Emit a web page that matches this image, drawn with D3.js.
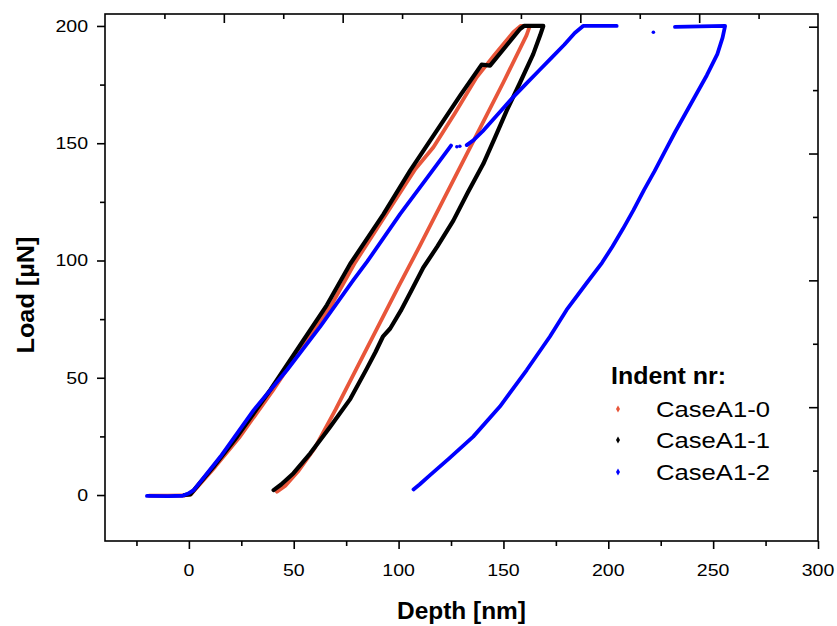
<!DOCTYPE html>
<html><head><meta charset="utf-8">
<script src="https://cdn.jsdelivr.net/npm/d3@7/dist/d3.min.js"></script>
<style>body{margin:0;background:#fff}svg{display:block}text{font-family:"Liberation Sans",Arial,sans-serif;fill:#000}</style>
</head><body><svg id="c" width="837" height="626"></svg>
<script>
// ---- data ----
const seriesNames = ["CaseA1-0", "CaseA1-1", "CaseA1-2"];
const seriesColors = ["#E8563A", "#000000", "#0000FF"];

// CaseA1-0 (red)
const a0Depth = [-19,-10,-2,1,12.5,24,40,56,67.5,79.3,95,108,116.6,127,137.2,146,154.7,158.2,162.6,161,150,140,130,120,110,100,90,80,70,60,52,46,42];
const a0Load  = [-0.3,-0.3,-0.2,0.3,12,24.5,44.5,66,80.3,99.2,121,139,148.3,163,178.1,188,197.3,200,200,196,176,158.5,141,123.5,106,89,71.5,54,36.5,20,10,4,1.4];

// CaseA1-1 (black)
const a1Depth = [-2,0.7,11.8,23,38.8,54.7,65.8,76.9,92.8,105.5,119.8,129.5,139.6,143.6,157.9,159.8,169,167.5,164.2,158,151.6,146,140.4,133,126.1,118.5,111.8,106,101,96,92.5,89,84.9,77,67.4,57.9,49.9,44,40.4];
const a1Load  = [0,0.3,12.1,24.9,44.8,66.1,81,98.5,119.8,138.3,157.5,170.5,183.5,183.1,198.7,200,200,196,188,176,164,152.5,141.2,129,117,106,97,87,78.5,71,67.5,61,54,41,29.1,17.8,9.3,4.5,2.1];

// CaseA1-2 (blue), null marks a gap in the record
const a2Depth = [-20,-10,-3,0,2.3,15,30.9,46.8,62.6,78.5,85,100.7,115,125, null,
                 132.5,136,140,145,150,155,161,167,173,179,184,188,204, null,
                 231.8,255.7,254.5,252,247,242,237,232,227,222,217,212,207,202,197,189.6,180.1,172.1,161.1,148.3,135.6,124,115,110,107.1];
const a2Load  = [-0.4,-0.5,-0.3,0.8,2.1,16.3,36.2,53.3,71.8,91.7,99.5,119.8,136.9,149, null,
                 149.2,151.5,155,160,165,170,175.5,181,186.5,192,197,200,200, null,
                 199.6,200,195,188,179,171,163,155,146.5,138,130,121.5,113.5,106,99,90.3,78.9,67.5,53.3,37.7,24.9,15.5,8.5,4.5,2.4];
// isolated blue points
const a2DotDepth = [127.8, 129.2, 221.5];
const a2DotLoad  = [148.5, 148.7, 197.3];

// axis ticks
const xMajor = [0,50,100,150,200,250,300];
const xMinor = [-25,25,75,125,175,225,275];
const yMajor = [0,50,100,150,200];
const yMinor = [25,75,125,175];
const topMajor = [1,2,3,4,5];
const topMinor = [0.5,1.5,2.5,3.5,4.5,5.5];
const rightMajor = [1,2,3,4];
const rightMinor = [0.5,1.5,2.5,3.5];

// ---- drawing ----
const svg = d3.select("#c");
const L=105, R=818, T=14, B=541;
const x = d3.scaleLinear([-40,300],[L,R]);
const y = d3.scaleLinear([-19.6,205.1],[B,T]);
const xTop = d3.scaleLinear([0,6],[L,R]);
const yRight = d3.scaleLinear([0,4],[534,26.7]);
const SX = 1.15;

function ax(gen, vals, size, tx, ty){
  const g = svg.append("g").attr("transform",`translate(${tx},${ty})`)
    .call(gen.tickValues(vals).tickSize(size).tickSizeOuter(0).tickFormat(""));
  g.select(".domain").remove();
  g.selectAll("line").attr("stroke","#000").attr("stroke-width",1.6);
}
ax(d3.axisBottom(x), xMajor, 8, 0, B);
ax(d3.axisBottom(x), xMinor, 5, 0, B);
ax(d3.axisLeft(y), yMajor, 8, L, 0);
ax(d3.axisLeft(y), yMinor, 5, L, 0);
ax(d3.axisTop(xTop), topMajor, -9, 0, T);
ax(d3.axisTop(xTop), topMinor, -5, 0, T);
ax(d3.axisRight(yRight), rightMajor, -9, R, 0);
ax(d3.axisRight(yRight), rightMinor, -5, R, 0);

svg.append("rect").attr("x",L).attr("y",T).attr("width",R-L).attr("height",B-T)
  .attr("fill","none").attr("stroke","#000").attr("stroke-width",1.6);

// tick labels
svg.append("g").selectAll("text").data(xMajor).join("text")
  .attr("transform",d=>`translate(${x(d)},576) scale(${SX},1)`)
  .attr("text-anchor","middle").attr("font-size",17).text(d=>d);
svg.append("g").selectAll("text").data(yMajor).join("text")
  .attr("transform",d=>`translate(88,${y(d)+6}) scale(${SX},1)`)
  .attr("text-anchor","end").attr("font-size",17).text(d=>d);

// axis titles
svg.append("text").attr("x",461.5).attr("y",619).attr("text-anchor","middle")
  .attr("font-size",23).attr("font-weight","bold")
  .attr("textLength",129).attr("lengthAdjust","spacingAndGlyphs").text("Depth [nm]");
svg.append("text").attr("transform","translate(34,295) rotate(-90)").attr("text-anchor","middle")
  .attr("font-size",23).attr("font-weight","bold")
  .attr("textLength",117).attr("lengthAdjust","spacingAndGlyphs").text("Load [µN]");

// curves
const plot = svg.append("g");
const line = d3.line().defined((d)=>d[0]!==null).x(d=>x(d[0])).y(d=>y(d[1]));
const curves = [[a0Depth,a0Load],[a1Depth,a1Load],[a2Depth,a2Load]];
const widths = [3.8,4.2,3.8];
curves.forEach((c,i)=>{
  const pts = c[0].map((v,k)=>[v,c[1][k]]);
  plot.append("path").datum(pts).attr("d",line).attr("fill","none")
    .attr("stroke",seriesColors[i]).attr("stroke-width",widths[i])
    .attr("stroke-linejoin","round").attr("stroke-linecap","round");
});
plot.append("g").selectAll("circle").data(a2DotDepth.map((v,k)=>[v,a2DotLoad[k]])).join("circle")
  .attr("cx",d=>x(d[0])).attr("cy",d=>y(d[1])).attr("r",1.8).attr("fill",seriesColors[2]);

// legend
const lg = svg.append("g");
lg.append("text").attr("x",611).attr("y",384).attr("font-size",23).attr("font-weight","bold")
  .attr("textLength",115).attr("lengthAdjust","spacingAndGlyphs").text("Indent nr:");
const ly = [409,440,472];
seriesNames.forEach((n,i)=>{
  lg.append("path").attr("d",d3.symbol(d3.symbolDiamond,14)())
    .attr("transform",`translate(618,${ly[i]})`).attr("fill",seriesColors[i]);
  lg.append("text").attr("x",656).attr("y",ly[i]+8).attr("font-size",22)
    .attr("textLength",114).attr("lengthAdjust","spacingAndGlyphs").text(n);
});
</script></body></html>
